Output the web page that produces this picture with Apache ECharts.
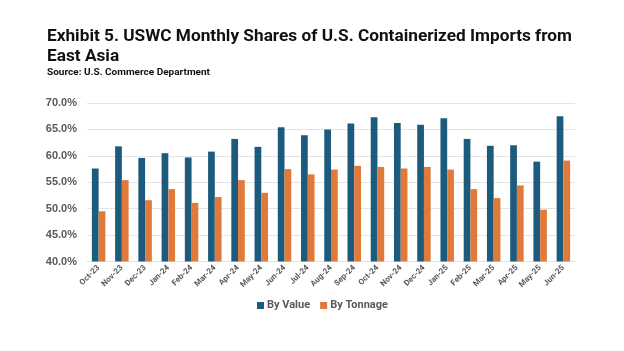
<!DOCTYPE html>
<html lang="en">
<head>
    <meta charset="UTF-8">
    <title>USWC Monthly Shares</title>
    <script src="https://cdn.jsdelivr.net/npm/echarts@6/dist/echarts.min.js"></script>
    <style>
        body { margin: 0; background: #fff; }
    </style>
</head>
<body>
<div id="main" style="width:624px; height:351px;"></div>
</body>
<script type="text/javascript">

    // months on the x axis
    const months = ['Oct-23','Nov-23','Dec-23','Jan-24','Feb-24','Mar-24','Apr-24','May-24','Jun-24',
        'Jul-24','Aug-24','Sep-24','Oct-24','Nov-24','Dec-24','Jan-25','Feb-25','Mar-25','Apr-25',
        'May-25','Jun-25'];

    // shares in percent
    const byValue = [57.6, 61.8, 59.6, 60.5, 59.7, 60.8, 63.2, 61.7, 65.4, 63.9, 65.0,
        66.1, 67.3, 66.2, 65.9, 67.1, 63.2, 61.9, 62.0, 58.9, 67.5];
    const byTonnage = [49.5, 55.4, 51.6, 53.7, 51.1, 52.2, 55.4, 53.0, 57.5, 56.5, 57.4,
        58.1, 57.9, 57.6, 57.9, 57.4, 53.7, 52.0, 54.4, 49.8, 59.1];

    const titleLines = ['Exhibit 5. USWC Monthly Shares of U.S. Containerized Imports from', 'East Asia'];
    const sourceText = 'Source: U.S. Commerce Department';

    const labelGray = '#595959';

    // the original uses a narrow font, so squeeze a normal one to the same width
    const ctx = document.createElement('canvas').getContext('2d');
    ctx.font = 'bold 17px Roboto';
    const titleScale = 525 / ctx.measureText(titleLines[0]).width;
    ctx.font = 'bold 9.5px Roboto';
    const sourceScale = 163 / ctx.measureText(sourceText).width;

    let myChart = echarts.init(document.getElementById('main'));

    let option = {
        backgroundColor: '#fff',
        graphic: [{
            type: 'text',
            x: 47,
            y: 28,
            scaleX: titleScale,
            style: {
                text: titleLines[0],
                font: 'bold 17px Roboto',
                fill: '#111',
                verticalAlign: 'top'
            }
        }, {
            type: 'text',
            x: 47,
            y: 48,
            scaleX: titleScale,
            style: {
                text: titleLines[1],
                font: 'bold 17px Roboto',
                fill: '#111',
                verticalAlign: 'top'
            }
        }, {
            type: 'text',
            x: 47,
            y: 67.5,
            scaleX: sourceScale,
            style: {
                text: sourceText,
                font: 'bold 9.5px Roboto',
                fill: '#111',
                verticalAlign: 'top'
            }
        }],
        legend: {
            data: ['By Value', 'By Tonnage'],
            left: 252,
            top: 295,
            itemWidth: 7,
            itemHeight: 7,
            itemGap: 10,
            icon: 'rect',
            textStyle: {
                fontFamily: 'Roboto',
                fontWeight: 'bold',
                fontSize: 11,
                color: labelGray,
                padding: [0, 0, 0, -2]
            }
        },
        grid: {
            left: 87,
            right: 49,
            top: 103,
            bottom: 89.5,
            containLabel: false
        },
        xAxis: {
            type: 'category',
            data: months,
            axisLine: { show: true, lineStyle: { color: '#e4e4e4' } },
            axisTick: { show: false },
            axisLabel: {
                interval: 0,
                rotate: 45,
                margin: 5,
                fontFamily: 'Roboto',
                fontWeight: 'bold',
                fontSize: 8,
                color: labelGray
            }
        },
        yAxis: {
            type: 'value',
            min: 40,
            max: 70,
            interval: 5,
            axisLine: { show: false },
            axisTick: { show: false },
            splitLine: { lineStyle: { color: '#e4e4e4' } },
            axisLabel: {
                margin: 10,
                fontFamily: 'Liberation Sans',
                fontWeight: 'bold',
                fontSize: 11,
                color: labelGray,
                formatter: function (v) { return v.toFixed(1) + '%'; }
            }
        },
        series: [{
            name: 'By Value',
            type: 'bar',
            data: byValue,
            barWidth: '29%',
            barGap: '0%',
            itemStyle: { color: '#1d5b7e' }
        }, {
            name: 'By Tonnage',
            type: 'bar',
            data: byTonnage,
            barWidth: '29%',
            barGap: '0%',
            itemStyle: { color: '#e07a3a' }
        }]
    };

    myChart.setOption(option);
</script>
</html>
